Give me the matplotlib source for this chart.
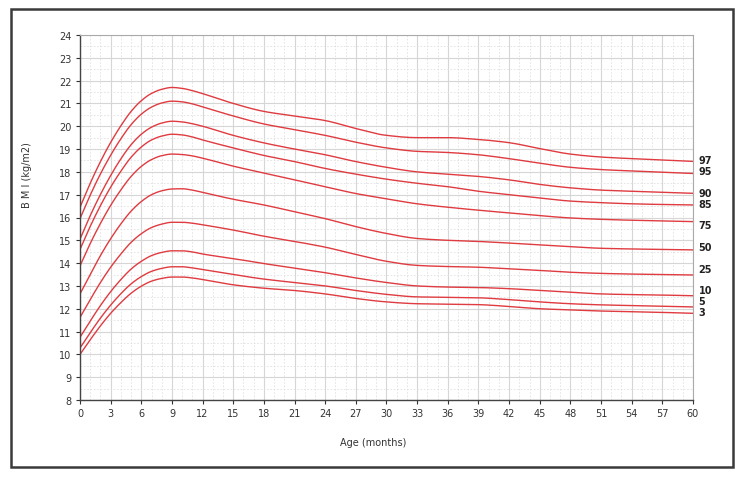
import numpy as np
import matplotlib
matplotlib.use("Agg")
import matplotlib.pyplot as plt
from matplotlib.patches import Rectangle
from matplotlib.ticker import MultipleLocator

ages = [0, 1, 2, 3, 4, 5, 6, 7, 8, 9, 10, 11, 12, 15, 18, 21, 24, 27, 30, 33, 36, 39, 42, 45, 48, 51, 54, 57, 60]

p97 = [16.45, 17.50, 18.45, 19.29, 20.02, 20.65, 21.12, 21.44, 21.62, 21.70, 21.66, 21.56, 21.43,
       21.00, 20.65, 20.45, 20.25, 19.90, 19.60, 19.50, 19.50, 19.42, 19.28, 19.02, 18.78, 18.65, 18.58, 18.52, 18.46]
p95 = [15.95, 16.98, 17.91, 18.73, 19.45, 20.07, 20.53, 20.84, 21.02, 21.10, 21.07, 20.98, 20.85,
       20.45, 20.10, 19.85, 19.60, 19.30, 19.05, 18.90, 18.85, 18.75, 18.58, 18.38, 18.20, 18.10, 18.04, 17.98, 17.93]
p90 = [15.05, 16.08, 17.01, 17.84, 18.57, 19.19, 19.65, 19.96, 20.14, 20.22, 20.19, 20.11, 20.00,
       19.60, 19.27, 19.00, 18.75, 18.45, 18.20, 18.00, 17.90, 17.80, 17.65, 17.45, 17.30, 17.20, 17.15, 17.10, 17.06]
p85 = [14.60, 15.61, 16.52, 17.33, 18.03, 18.64, 19.09, 19.40, 19.57, 19.65, 19.62, 19.53, 19.40,
       19.05, 18.72, 18.45, 18.15, 17.90, 17.68, 17.50, 17.35, 17.15, 17.00, 16.85, 16.72, 16.65, 16.60, 16.57, 16.55]
p75 = [13.88, 14.86, 15.74, 16.53, 17.21, 17.80, 18.24, 18.54, 18.71, 18.78, 18.76, 18.70, 18.60,
       18.25, 17.95, 17.65, 17.35, 17.05, 16.82, 16.60, 16.45, 16.32, 16.20, 16.08, 15.98, 15.92, 15.88, 15.85, 15.82]
p50 = [12.65, 13.50, 14.33, 15.07, 15.72, 16.28, 16.70, 17.00, 17.17, 17.25, 17.26, 17.20, 17.10,
       16.80, 16.55, 16.25, 15.95, 15.60, 15.30, 15.08, 15.00, 14.95, 14.88, 14.80, 14.72, 14.65, 14.62, 14.60, 14.58]
p25 = [11.62, 12.40, 13.15, 13.82, 14.40, 14.91, 15.29, 15.56, 15.71, 15.79, 15.79, 15.75, 15.68,
       15.45, 15.18, 14.95, 14.70, 14.38, 14.08, 13.90, 13.85, 13.82, 13.75, 13.68, 13.60, 13.55, 13.52, 13.50, 13.48]
p10 = [10.75, 11.46, 12.14, 12.75, 13.28, 13.74, 14.08, 14.33, 14.47, 14.54, 14.54, 14.49, 14.40,
       14.20, 13.98, 13.78, 13.58, 13.35, 13.15, 13.00, 12.95, 12.93, 12.88, 12.80, 12.72, 12.65, 12.62, 12.60, 12.57]
p5 = [10.28, 10.95, 11.59, 12.16, 12.66, 13.09, 13.41, 13.64, 13.77, 13.84, 13.84, 13.79, 13.72,
      13.50, 13.30, 13.15, 13.00, 12.80, 12.63, 12.52, 12.50, 12.48, 12.40, 12.30, 12.22, 12.17, 12.14, 12.11, 12.08]
p3 = [10.00, 10.64, 11.25, 11.80, 12.27, 12.68, 12.99, 13.21, 13.33, 13.39, 13.39, 13.35, 13.28,
      13.05, 12.90, 12.80, 12.65, 12.45, 12.30, 12.22, 12.20, 12.18, 12.10, 12.00, 11.95, 11.90, 11.87, 11.84, 11.80]

series = [p97, p95, p90, p85, p75, p50, p25, p10, p5, p3]
labels = ["97", "95", "90", "85", "75", "50", "25", "10", "5", "3"]
# label vertical offsets in points (layout only)
label_dy = [1.2, 1.9, 0.3, 0.7, -2.4, 2.2, 4.3, 4.1, 4.3, 0.8]


def pchip_draw(x, y, n=8):
    """Smooth rendering path through the data points (monotone cubic)."""
    x = np.asarray(x, float)
    y = np.asarray(y, float)
    h = np.diff(x)
    d = np.diff(y) / h
    m = np.zeros_like(y)
    for k in range(1, len(x) - 1):
        if d[k - 1] * d[k] > 0:
            w1 = 2 * h[k] + h[k - 1]
            w2 = h[k] + 2 * h[k - 1]
            m[k] = (w1 + w2) / (w1 / d[k - 1] + w2 / d[k])
        else:
            m[k] = 0.0
    m[0] = d[0]
    m[-1] = d[-1]
    xs, ys = [], []
    for k in range(len(x) - 1):
        t = np.linspace(0, 1, n, endpoint=False)
        h00 = 2 * t**3 - 3 * t**2 + 1
        h10 = t**3 - 2 * t**2 + t
        h01 = -2 * t**3 + 3 * t**2
        h11 = t**3 - t**2
        xs.append(x[k] + t * h[k])
        ys.append(h00 * y[k] + h10 * h[k] * m[k] + h01 * y[k + 1] + h11 * h[k] * m[k + 1])
    xs.append([x[-1]])
    ys.append([y[-1]])
    return np.concatenate(xs), np.concatenate(ys)


plt.rcParams['font.family'] = ['DejaVu Sans']
fig = plt.figure(figsize=(7.45, 4.81), dpi=100)
fig.patch.set_facecolor('white')

# outer frame
fig.patches.append(Rectangle((11/745, 1-468/481), (733-11)/745, (468-10)/481,
                             transform=fig.transFigure, fill=False,
                             edgecolor='#3a3a3a', linewidth=1.8))

ax = fig.add_axes([80/745, 1-401/481, (693-80)/745, (401-36)/481])
ax.set_xlim(0, 60)
ax.set_ylim(8, 24)
ax.xaxis.set_major_locator(MultipleLocator(3))
ax.xaxis.set_minor_locator(MultipleLocator(1))
ax.yaxis.set_major_locator(MultipleLocator(1))
ax.yaxis.set_minor_locator(MultipleLocator(0.5))
ax.grid(which='major', color='#d6d6d6', linewidth=0.8, linestyle='-')
ax.grid(which='minor', color='#e0e0e0', linewidth=0.6, linestyle=(0, (2, 2)))
ax.set_axisbelow(True)

for s in series:
    sx, sy = pchip_draw(ages, s)
    ax.plot(sx, sy, color='#df3b40', linewidth=1.0)

for s, lab, dy in zip(series, labels, label_dy):
    ax.annotate(lab, xy=(60, s[-1]), xytext=(4, dy), textcoords='offset points',
                ha='left', va='center', fontsize=7, fontweight='bold', color='#222222',
                annotation_clip=False)

ax.tick_params(which='major', direction='out', length=3, width=0.8, colors='#333333',
               labelsize=7, labelcolor='#333333', pad=3)
ax.tick_params(which='minor', length=0)
for side in ['left', 'bottom']:
    ax.spines[side].set_color('#444444')
    ax.spines[side].set_linewidth(1.0)
for side in ['top', 'right']:
    ax.spines[side].set_color('#aaaaaa')
    ax.spines[side].set_linewidth(0.8)

fig.text(27/745, 1-175/481, "B M I (kg/m2)", rotation=90, ha='center', va='center',
         fontsize=7, color='#333333')
fig.text(373/745, 1-443/481, "Age (months)", ha='center', va='center',
         fontsize=7, color='#333333')

fig.savefig("out.png", dpi=100, facecolor='white')
